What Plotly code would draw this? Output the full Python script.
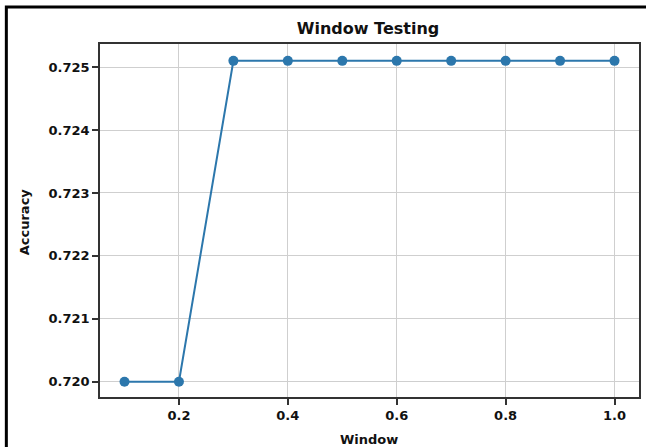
import plotly.graph_objects as go

window = [0.1, 0.2, 0.3, 0.4, 0.5, 0.6, 0.7, 0.8, 0.9, 1.0]
accuracy = [0.7200, 0.7200, 0.7251, 0.7251, 0.7251, 0.7251, 0.7251, 0.7251, 0.7251, 0.7251]
x_ticks = [0.2, 0.4, 0.6, 0.8, 1.0]
x_tick_labels = ["0.2", "0.4", "0.6", "0.8", "1.0"]
y_ticks = [0.720, 0.721, 0.722, 0.723, 0.724, 0.725]
y_tick_labels = ["0.720", "0.721", "0.722", "0.723", "0.724", "0.725"]

W, H = 646, 447
L, R, T, B = 100, 5, 44, 50
pw, ph = W - L - R, H - T - B


def px(x):
    return (x - L) / pw


def py(y):
    return (H - B - y) / ph


font = "DejaVu Sans"
fig = go.Figure()
fig.add_trace(go.Scatter(
    x=window, y=accuracy, mode="lines+markers",
    line=dict(color="#2c77ac", width=2),
    marker=dict(color="#2c77ac", size=10),
    showlegend=False,
))

fig.update_layout(
    width=W, height=H,
    margin=dict(l=L, r=R, t=T, b=B),
    paper_bgcolor="white", plot_bgcolor="white",
    font=dict(family=font, size=13, color="#111111"),
    title=dict(text="<b>Window Testing</b>", x=368 / W, xanchor="center",
               y=1 - 28 / H, yanchor="middle", font=dict(size=16, family=font, color="#111")),
    xaxis=dict(
        range=[0.055, 1.045], tickvals=x_ticks, ticktext=["<b>%s</b>" % t for t in x_tick_labels],
        showgrid=True, gridcolor="#cfcfcf", gridwidth=1,
        showline=True, linecolor="#333333", linewidth=1.5, mirror=True,
        ticks="outside", ticklen=6, tickcolor="#333333", tickwidth=1.5,
        zeroline=False,
    ),
    yaxis=dict(
        range=[0.719757, 0.725368], tickvals=y_ticks, ticktext=["<b>%s</b>" % t for t in y_tick_labels],
        showgrid=True, gridcolor="#cfcfcf", gridwidth=1,
        showline=True, linecolor="#333333", linewidth=1.5, mirror=True,
        ticks="outside", ticklen=6, tickcolor="#333333", tickwidth=1.5,
        zeroline=False,
    ),
    annotations=[
        dict(text="<b>Window</b>", xref="paper", yref="paper", x=px(370), y=py(439),
             xanchor="center", yanchor="middle", showarrow=False, font=dict(size=13)),
        dict(text="<b>Accuracy</b>", xref="paper", yref="paper", x=px(24), y=py(222),
             xanchor="center", yanchor="middle", showarrow=False, textangle=-90, font=dict(size=13)),
    ],
    shapes=[dict(
        type="rect", xref="paper", yref="paper",
        x0=px(6), x1=px(652), y0=py(452), y1=py(7),
        line=dict(color="black", width=3), fillcolor="rgba(0,0,0,0)", layer="above",
    )],
)

fig.write_html("out.html", config={"displayModeBar": False},
               post_script="document.body.style.margin='0';")
